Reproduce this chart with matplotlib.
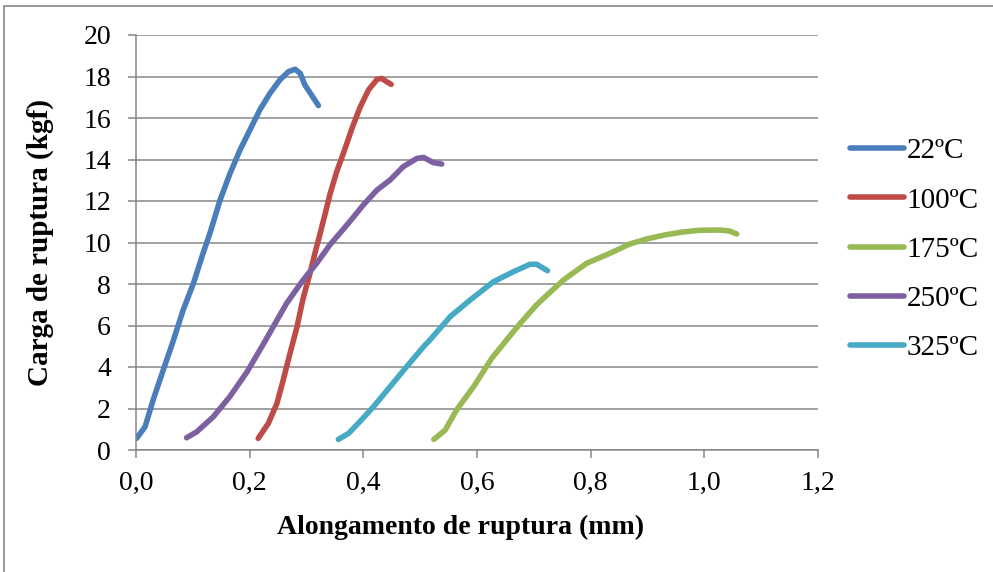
import matplotlib
matplotlib.use("Agg")
import matplotlib.pyplot as plt
from matplotlib.patches import Rectangle

# Elongation (mm) and rupture load (kgf) for each test temperature
labels = ["22ºC", "100ºC", "175ºC", "250ºC", "325ºC"]
colors = ["#4A7EBB", "#BE4B48", "#98B954", "#7D60A0", "#46AAC5"]

x_22 = [0.001, 0.016, 0.030, 0.048, 0.066, 0.083, 0.101, 0.118, 0.130, 0.148, 0.165,
        0.183, 0.200, 0.218, 0.236, 0.253, 0.268, 0.280, 0.289, 0.297, 0.309, 0.321]
y_22 = [0.56, 1.12, 2.40, 3.86, 5.30, 6.75, 8.03, 9.48, 10.44, 12.05, 13.30,
        14.46, 15.40, 16.40, 17.20, 17.83, 18.23, 18.35, 18.15, 17.60, 17.10, 16.60]

x_100 = [0.215, 0.233, 0.248, 0.259, 0.271, 0.283, 0.294, 0.306, 0.315, 0.324, 0.333,
         0.341, 0.353, 0.367, 0.380, 0.394, 0.409, 0.424, 0.432, 0.441, 0.449]
y_100 = [0.56, 1.29, 2.25, 3.37, 4.66, 5.90, 7.30, 8.50, 9.50, 10.44, 11.40,
         12.30, 13.40, 14.46, 15.50, 16.50, 17.35, 17.86, 17.91, 17.75, 17.62]

x_175 = [0.524, 0.544, 0.564, 0.594, 0.626, 0.652, 0.676, 0.705, 0.717, 0.752, 0.793,
         0.834, 0.869, 0.900, 0.930, 0.960, 0.992, 1.028, 1.045, 1.057]
y_175 = [0.51, 0.96, 1.93, 3.05, 4.42, 5.30, 6.10, 7.00, 7.31, 8.19, 9.00,
         9.48, 9.93, 10.18, 10.36, 10.50, 10.59, 10.60, 10.55, 10.41]

x_250 = [0.089, 0.107, 0.136, 0.165, 0.195, 0.224, 0.250, 0.265, 0.294, 0.318, 0.341,
         0.371, 0.400, 0.424, 0.447, 0.470, 0.494, 0.506, 0.523, 0.538]
y_250 = [0.59, 0.88, 1.60, 2.57, 3.75, 5.10, 6.35, 7.07, 8.19, 9.00, 9.88,
         10.84, 11.81, 12.53, 13.01, 13.65, 14.05, 14.10, 13.85, 13.78]

x_325 = [0.356, 0.374, 0.394, 0.418, 0.447, 0.476, 0.506, 0.517, 0.553, 0.588, 0.629,
         0.664, 0.693, 0.705, 0.724]
y_325 = [0.51, 0.80, 1.37, 2.09, 3.05, 4.01, 4.98, 5.30, 6.43, 7.23, 8.11,
         8.59, 8.95, 8.95, 8.64]

series_x = [x_22, x_100, x_175, x_250, x_325]
series_y = [y_22, y_100, y_175, y_250, y_325]

x_ticks = [0.0, 0.2, 0.4, 0.6, 0.8, 1.0, 1.2]
x_tick_labels = ["0,0", "0,2", "0,4", "0,6", "0,8", "1,0", "1,2"]
y_ticks = list(range(0, 21, 2))

plt.rcParams["font.family"] = ["Liberation Serif", "DejaVu Serif"]

fig = plt.figure(figsize=(9.93, 5.72), dpi=100)
fig.patch.set_facecolor("white")
ax = fig.add_axes([136 / 993, 1 - 450 / 572, (818 - 136) / 993, (450 - 35) / 572])

for xs, ys, c, lab in zip(series_x, series_y, colors, labels):
    ax.plot(xs, ys, color=c, lw=4.0, solid_capstyle="round",
            solid_joinstyle="round", label=lab)

ax.set_xlim(0, 1.2)
ax.set_ylim(0, 20)
ax.set_xticks(x_ticks)
ax.set_xticklabels(x_tick_labels)
ax.set_yticks(y_ticks)

grid_c = "#868686"
ax.yaxis.grid(True, color=grid_c, lw=1.1)
ax.set_axisbelow(True)
for side in ("top", "right"):
    ax.spines[side].set_visible(False)
for side in ("left", "bottom"):
    ax.spines[side].set_color(grid_c)
    ax.spines[side].set_linewidth(1.1)
ax.tick_params(axis="both", colors=grid_c, length=6, width=1.1, direction="out",
               labelcolor="black", labelsize=20)
ax.tick_params(axis="y", pad=12)
ax.tick_params(axis="x", pad=9)

ax.set_xlabel("Alongamento de ruptura (mm)", fontsize=20, fontweight="bold")
ax.xaxis.set_label_coords((461 - 136) / (818 - 136), -(527 - 450) / (450 - 35),
                          transform=ax.transAxes)
ax.xaxis.label.set_va("center")
ax.set_ylabel("Carga de ruptura (kgf)", fontsize=21, fontweight="bold")
ax.yaxis.set_label_coords(-(136 - 40) / (818 - 136), (450 - 243) / (450 - 35),
                          transform=ax.transAxes)
ax.yaxis.label.set_va("center")

leg = ax.legend(loc="center left", bbox_to_anchor=(1.03, 0.483), frameon=False,
                fontsize=21, handlelength=1.85, handletextpad=0.08, labelspacing=0.78,
                borderaxespad=0)

# outer chart frame
fig.patches.append(Rectangle((4 / 993, -0.05), 1.2, (1 - 5.5 / 572) + 0.05,
                             transform=fig.transFigure, fill=False,
                             edgecolor="#868686", lw=1.2))

fig.savefig("out.png", dpi=100)
